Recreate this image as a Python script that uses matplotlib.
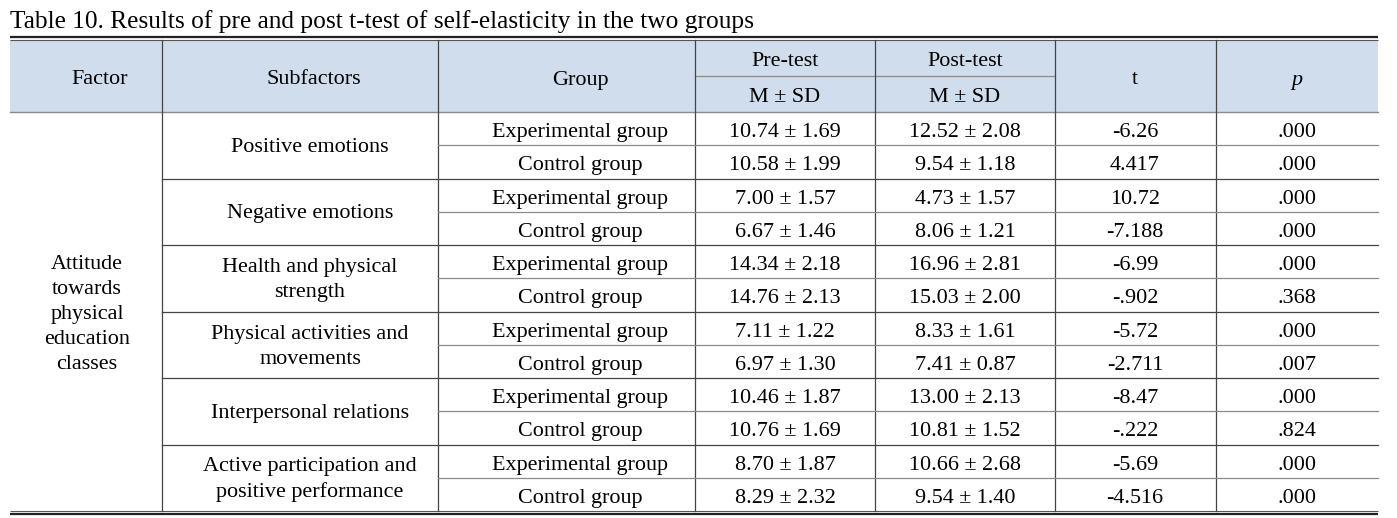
import matplotlib.pyplot as plt

# Table content
title = "Table 10. Results of pre and post t-test of self-elasticity in the two groups"
factor = "Attitude\ntowards\nphysical\neducation\nclasses"
subfactors = ["Positive emotions", "Negative emotions", "Health and physical\nstrength",
              "Physical activities and\nmovements", "Interpersonal relations",
              "Active participation and\npositive performance"]
groups = ["Experimental group", "Control group"]
pre = ["10.74 ± 1.69", "10.58 ± 1.99", "7.00 ± 1.57", "6.67 ± 1.46", "14.34 ± 2.18", "14.76 ± 2.13",
       "7.11 ± 1.22", "6.97 ± 1.30", "10.46 ± 1.87", "10.76 ± 1.69", "8.70 ± 1.87", "8.29 ± 2.32"]
post = ["12.52 ± 2.08", "9.54 ± 1.18", "4.73 ± 1.57", "8.06 ± 1.21", "16.96 ± 2.81", "15.03 ± 2.00",
        "8.33 ± 1.61", "7.41 ± 0.87", "13.00 ± 2.13", "10.81 ± 1.52", "10.66 ± 2.68", "9.54 ± 1.40"]
t_vals = ["-6.26", "4.417", "10.72", "-7.188", "-6.99", "-.902",
          "-5.72", "-2.711", "-8.47", "-.222", "-5.69", "-4.516"]
p_vals = [".000", ".000", ".000", ".000", ".000", ".368",
          ".000", ".007", ".000", ".824", ".000", ".000"]

plt.rcParams['font.family'] = ['Liberation Serif', 'DejaVu Serif']
FS = 15.9
W, H = 1397, 518

fig = plt.figure(figsize=(W / 100, H / 100), dpi=100)
ax = fig.add_axes([0, 0, 1, 1])
ax.set_xlim(0, W)
ax.set_ylim(H, 0)
ax.axis('off')

# geometry (pixels)
xl, xr = 10, 1378
cols = [xl, 162, 438, 695, 875, 1055, 1216, xr]
top, hmid, hbot, bot = 40, 75.5, 112, 511
rh = (bot - hbot) / 12
dark = '#444444'
light = '#8a8a8a'
dy = 1.5  # nudge text down a bit


def cell(x, y, s, **kw):
    ax.text(x, y + dy, s, fontsize=FS, ha='center', va='center_baseline', **kw)


ax.text(10, 19, title, fontsize=18.3, va='center_baseline', ha='left')

# header fill
ax.fill_between([xl, xr], top, hbot, color='#cfdded', lw=0)

# outer double rules
ax.plot([xl, xr], [37, 37], color='#222222', lw=1.6, solid_capstyle='butt')
ax.plot([xl, xr], [40.3, 40.3], color='#555555', lw=0.8, solid_capstyle='butt')
ax.plot([xl, xr], [511, 511], color='#555555', lw=0.8, solid_capstyle='butt')
ax.plot([xl, xr], [514.3, 514.3], color='#222222', lw=1.6, solid_capstyle='butt')

# header lines
ax.plot([cols[3], cols[5]], [hmid, hmid], color=light, lw=0.9)
ax.plot([xl, xr], [hbot, hbot], color=light, lw=1.0)

# vertical lines
for c in cols[1:-1]:
    ax.plot([c, c], [top, bot], color=dark, lw=0.9)

# row lines
for i in range(1, 12):
    y = hbot + i * rh
    if i % 2 == 0:
        ax.plot([cols[1], xr], [y, y], color=dark, lw=0.9)
    else:
        ax.plot([cols[2], xr], [y, y], color=light, lw=0.9)

# header text
cell(100, (top + hbot) / 2, "Factor")
cell(314, (top + hbot) / 2, "Subfactors")
cell(580, (top + hbot) / 2, "Group")
cell(785, (top + hmid) / 2, "Pre-test")
cell(965, (top + hmid) / 2, "Post-test")
cell(785, (hmid + hbot) / 2, "M ± SD")
cell(965, (hmid + hbot) / 2, "M ± SD")
cell(1135, (top + hbot) / 2, "t")
cell(1297, (top + hbot) / 2, "p", style='italic')

# body
ax.text(87, (hbot + bot) / 2 + 3, factor, fontsize=FS, ha='center', va='center',
        linespacing=1.42)
for k, s in enumerate(subfactors):
    yc = hbot + (2 * k + 1) * rh
    ax.text(310, yc + 2, s, fontsize=FS, ha='center', va='center', linespacing=1.42)

for i in range(12):
    yc = hbot + (i + 0.5) * rh
    cell(580, yc, groups[i % 2])
    cell(785, yc, pre[i])
    cell(965, yc, post[i])
    cell(1135, yc, t_vals[i])
    cell(1297, yc, p_vals[i])

fig.savefig('out.png', dpi=100, facecolor='white')
